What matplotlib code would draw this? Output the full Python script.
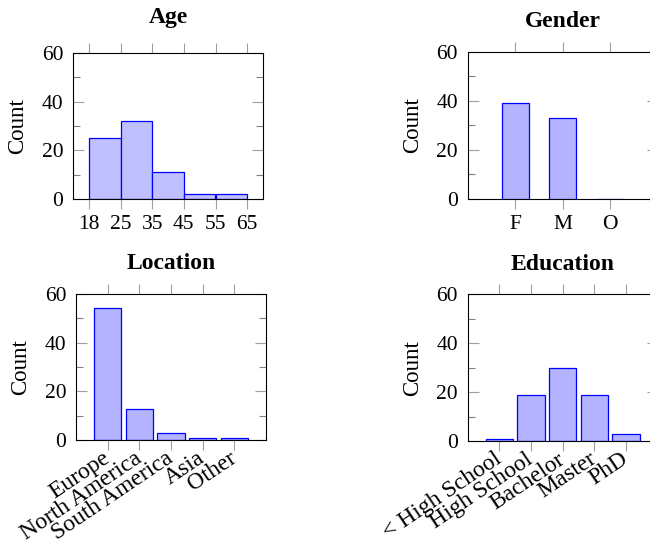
import matplotlib
matplotlib.use("Agg")
import matplotlib.pyplot as plt
from matplotlib.ticker import MultipleLocator

plt.rcParams['font.family'] = ['Liberation Serif', 'DejaVu Serif']

# survey counts
age_edges = ["18", "25", "35", "45", "55", "65"]
age_counts = [25, 32, 11, 2, 2]

gender_labels = ["F", "M", "O"]
gender_counts = [39, 33, 0]

location_labels = ["Europe", "North America", "South America", "Asia", "Other"]
location_counts = [54, 13, 3, 1, 1]

education_labels = ["< High School", "High School", "Bachelor", "Master", "PhD"]
education_counts = [1, 19, 30, 19, 3]

W, H = 650, 548
fig = plt.figure(figsize=(W / 100, H / 100), dpi=100)

def px_axes(left, top, width, height):
    return fig.add_axes([left / W, 1 - (top + height) / H, width / W, height / H])

def style(ax, title, title_off):
    for s in ax.spines.values():
        s.set_color("black")
        s.set_linewidth(0.8)
    ax.set_ylim(0, 60)
    ax.yaxis.set_major_locator(MultipleLocator(20))
    ax.yaxis.set_minor_locator(MultipleLocator(10))
    ax.tick_params(axis="x", which="major", direction="out", length=7.5, width=0.8,
                   color="#a0a0a0", top=True, bottom=True, pad=4, labelsize=15.5)
    ax.tick_params(axis="y", which="major", direction="in", length=8, width=0.8,
                   color="#a0a0a0", left=True, right=True, pad=7, labelsize=15.5)
    ax.tick_params(axis="y", which="minor", direction="in", length=5, width=0.8,
                   color="#808080", left=True, right=True)
    ax.tick_params(axis="x", which="minor", bottom=False, top=False)
    ax.text(-0.29, 0.5, "Count", rotation=90, ha="center", va="center",
            fontsize=16.5, transform=ax.transAxes)
    ax.text(0.5, 1 + title_off, title, ha="center", va="baseline",
            fontsize=17, fontweight="bold", transform=ax.transAxes)

def slanted(ax, labels):
    ax.set_xticks(range(len(labels)))
    ax.set_xticklabels(labels, rotation=34, ha="right", va="center",
                       rotation_mode="anchor", fontsize=17)

# Age histogram
ax = px_axes(73, 53, 190, 146)
ax.bar(range(len(age_counts)), age_counts, width=1, align="edge",
       color="#c0c0ff", edgecolor="blue", linewidth=0.9)
ax.set_xlim(-0.5, 5.5)
ax.set_xticks(range(len(age_edges)))
ax.set_xticklabels(age_edges)
style(ax, "Age", 0.205)

# Gender
ax = px_axes(467.7, 52, 190, 146.7)
ax.bar(range(len(gender_counts)), gender_counts, width=0.56,
       color="#b3b3ff", edgecolor="blue", linewidth=0.9, zorder=3)
ax.set_xlim(-1, 3)
ax.set_xticks(range(len(gender_labels)))
ax.set_xticklabels(gender_labels)
style(ax, "Gender", 0.17)

# Location
ax = px_axes(76, 293.7, 190, 146.6)
ax.bar(range(len(location_counts)), location_counts, width=0.86,
       color="#b3b3ff", edgecolor="blue", linewidth=0.9)
ax.set_xlim(-1, 5)
style(ax, "Location", 0.168)
slanted(ax, location_labels)

# Education
ax = px_axes(467.7, 294.3, 190, 147)
ax.bar(range(len(education_counts)), education_counts, width=0.86,
       color="#b3b3ff", edgecolor="blue", linewidth=0.9)
ax.set_xlim(-1, 5)
style(ax, "Education", 0.166)
slanted(ax, education_labels)

fig.savefig("out.png", dpi=100)
